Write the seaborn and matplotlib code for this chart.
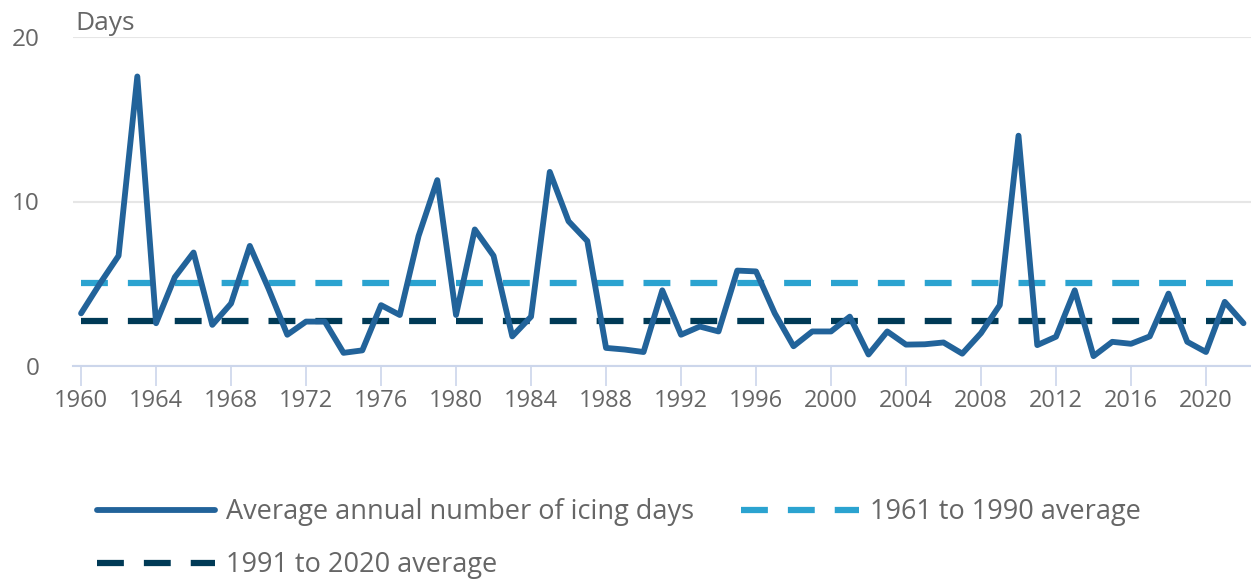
import matplotlib
matplotlib.use("Agg")
import matplotlib.pyplot as plt
import seaborn as sns
import numpy as np
import pandas as pd

years = list(range(1960, 2023))
icing_days = [
    3.2, 5.0, 6.7, 17.6, 2.6, 5.4, 6.9, 2.5, 3.8, 7.3,
    4.7, 1.9, 2.7, 2.7, 0.8, 0.95, 3.7, 3.1, 7.9, 11.3,
    3.1, 8.3, 6.7, 1.8, 3.0, 11.8, 8.8, 7.6, 1.1, 1.0,
    0.85, 4.6, 1.9, 2.4, 2.1, 5.8, 5.75, 3.2, 1.2, 2.1,
    2.1, 3.0, 0.7, 2.1, 1.3, 1.32, 1.43, 0.75, 2.0, 3.7,
    14.0, 1.27, 1.78, 4.6, 0.6, 1.47, 1.35, 1.8, 4.4, 1.47,
    0.85, 3.9, 2.6,
]
avg_1961_1990 = 5.05
avg_1991_2020 = 2.71

series_names = ["Average annual number of icing days", "1961 to 1990 average", "1991 to 2020 average"]
x_ticks = list(range(1960, 2021, 4))
y_ticks = [0, 10, 20]

c_main = "#22639a"
c_light = "#2ba3d0"
c_dark = "#003a56"
txt = "#666666"

sns.set_theme(style="white")
plt.rcParams["font.family"] = ["Open Sans", "DejaVu Sans"]

df = pd.DataFrame({"year": years, "days": icing_days})
df["a1"] = [avg_1961_1990] * len(years)
df["a2"] = [avg_1991_2020] * len(years)

fig = plt.figure(figsize=(12.51, 5.80), dpi=100)
ax = fig.add_axes([73 / 1251, 1 - 366 / 580, 1 - 73 / 1251, (366 - 37) / 580])

dash = (0, (4.3, 3.2))
sns.lineplot(data=df, x="year", y="a1", ax=ax, color=c_light, lw=4.5, linestyle=dash, label=series_names[1], zorder=2)
sns.lineplot(data=df, x="year", y="a2", ax=ax, color=c_dark, lw=4.5, linestyle=dash, label=series_names[2], zorder=2)
sns.lineplot(data=df, x="year", y="days", ax=ax, color=c_main, lw=4.2, label=series_names[0], zorder=3)

ax.set_xlim(1959.57, 2022.4)
ax.set_ylim(0, 20)
ax.set_xticks(x_ticks)
ax.set_yticks(y_ticks)
ax.set_xlabel("")
ax.set_ylabel("")
for s in ["top", "right", "left"]:
    ax.spines[s].set_visible(False)
ax.spines["bottom"].set_color("#ccd6eb")
ax.spines["bottom"].set_linewidth(1.5)
ax.grid(axis="y", color="#e6e6e6", lw=1.5)
ax.grid(axis="x", visible=False)
ax.tick_params(axis="x", length=14.4, width=1.2, color="#ccd6eb", labelsize=17, labelcolor=txt, pad=2, bottom=True)
ax.tick_params(axis="y", length=0, labelsize=17.5, labelcolor=txt, pad=24)

fig.text(75 / 1251, 1 - 30 / 580, "Days", fontsize=19, color=txt, va="baseline", ha="left")

ax.get_legend().remove()
h, l = ax.get_legend_handles_labels()
order = [2, 1, 0]
fs = 19.5
leg = fig.legend([h[i] for i in order], [l[i] for i in order], ncol=2, frameon=False,
                 loc="upper left", bbox_to_anchor=(97 / 1251, 1 - 498 / 580),
                 fontsize=fs, handlelength=4.36, handletextpad=0.4, columnspacing=1.74,
                 labelspacing=0.93, borderpad=0, borderaxespad=0)
for t in leg.get_texts():
    t.set_color(txt)

fig.savefig("out.png", dpi=100)
